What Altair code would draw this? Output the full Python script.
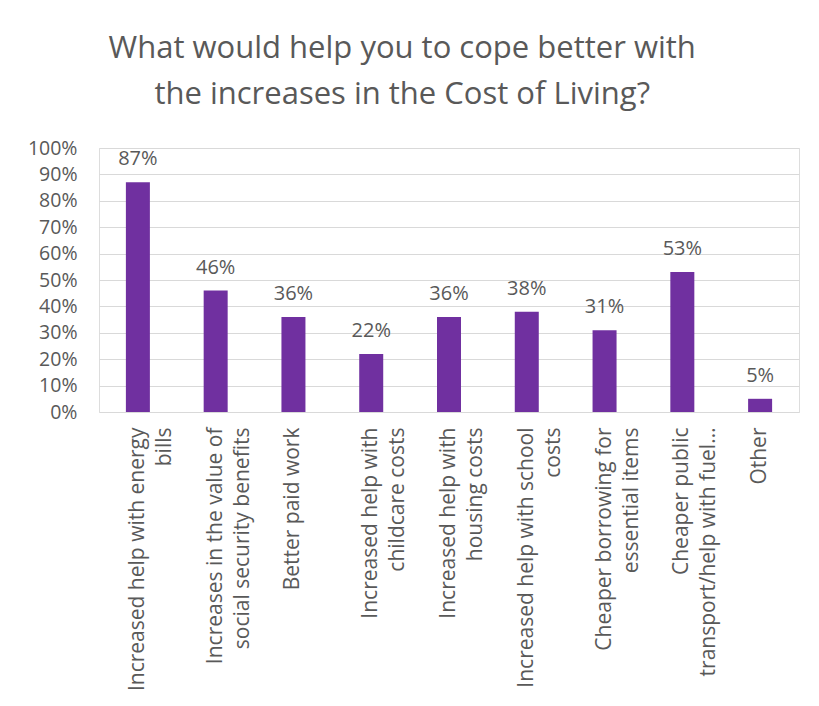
import altair as alt
import pandas as pd

categories = [
    "Increased help with energy\nbills",
    "Increases in the value of\nsocial security benefits",
    "Better paid work",
    "Increased help with\nchildcare costs",
    "Increased help with\nhousing costs",
    "Increased help with school\ncosts",
    "Cheaper borrowing for\nessential items",
    "Cheaper public\ntransport/help with fuel…",
    "Other",
]
values = [0.87, 0.46, 0.36, 0.22, 0.36, 0.38, 0.31, 0.53, 0.05]
y_ticks = [i / 10 for i in range(11)]

df = pd.DataFrame({"category": categories, "value": values})

FONT = "Open Sans"
TXT = "#595959"
FS = 19.5

base = alt.Chart(df).encode(
    x=alt.X(
        "category:N",
        sort=None,
        title=None,
        axis=alt.Axis(
            labelAngle=-90,
            labelExpr="split(datum.label, '\\n')",
            labelFontSize=21,
            labelFont=FONT,
            labelColor=TXT,
            labelLineHeight=27,
            labelLimit=400,
            labelPadding=15,
            ticks=False,
            domain=False,
            grid=False,
        ),
    ),
    y=alt.Y(
        "value:Q",
        title=None,
        scale=alt.Scale(domain=[0, 1]),
        axis=alt.Axis(
            values=y_ticks,
            format=".0%",
            labelFontSize=FS,
            labelFont=FONT,
            labelColor=TXT,
            labelPadding=22,
            ticks=False,
            domain=False,
            gridColor="#D9D9D9",
            gridWidth=1,
        ),
    ),
)

bars = base.mark_bar(color="#7030A0", size=24)
labels = base.mark_text(
    dy=-17, baseline="alphabetic", font=FONT, fontSize=20, color=TXT
).encode(text=alt.Text("value:Q", format=".0%"))

chart = (
    (bars + labels)
    .properties(
        width=700,
        height=264,
        title=alt.TitleParams(
            text=["What would help you to cope better with", "the increases in the Cost of Living?"],
            font=FONT,
            fontSize=31,
            fontWeight="normal",
            color=TXT,
            lineHeight=46,
            anchor="middle",
            frame="bounds",
            offset=27,
            dx=-11,
        ),
        padding={"left": 19, "top": 25, "right": 8, "bottom": 5},
    )
    .configure_view(stroke="transparent", strokeWidth=0)
    .configure(background="white")
)

chart.save("out.html", embed_options={"renderer": "svg", "actions": False})
